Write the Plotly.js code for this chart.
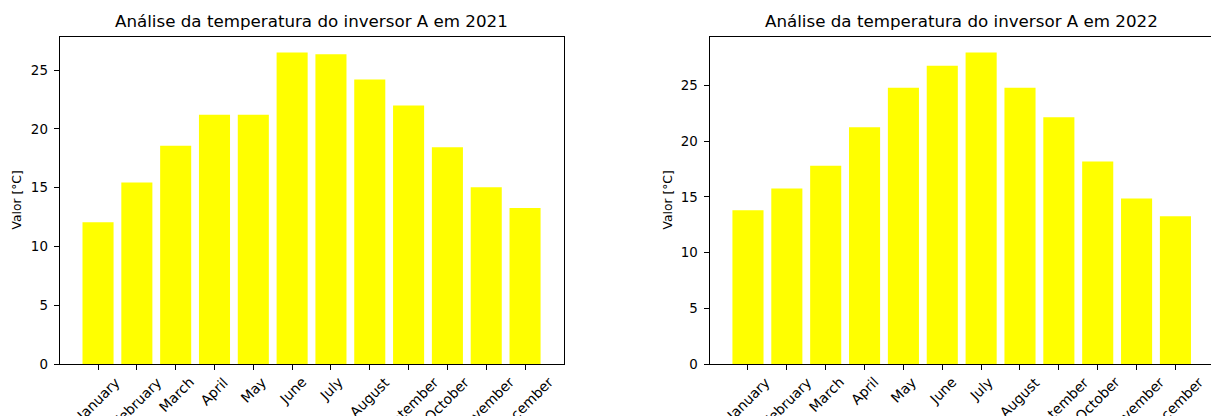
<!DOCTYPE html>
<html>
<head>
<meta charset="utf-8">
<script src="https://cdn.plot.ly/plotly-3.0.1.min.js"></script>
<style>
  html, body { margin: 0; padding: 0; background: #fff; }
  #chart { width: 1211px; height: 416px; }
</style>
</head>
<body>
<div id="chart"></div>
<script>
// Monthly mean temperature of inverter A
const months = ['January', 'February', 'March', 'April', 'May', 'June',
                'July', 'August', 'September', 'October', 'November', 'December'];
const temp2021 = [12.06, 15.45, 18.58, 21.2, 21.2, 26.5, 26.35, 24.2, 22.0, 18.45, 15.05, 13.27];
const temp2022 = [13.8, 15.74, 17.79, 21.25, 24.8, 26.76, 27.95, 24.8, 22.14, 18.17, 14.85, 13.25];
const titles = ['Análise da temperatura do inversor A em 2021',
                'Análise da temperatura do inversor A em 2022'];
const yLabel = 'Valor [°C]';
const yTicks = [0, 5, 10, 15, 20, 25];

const W = 1211, H = 416;
const FONT = 'DejaVu Sans, sans-serif';
const px2x = p => p / W;
const px2y = p => (H - p) / H;

// axes boxes in pixels: [left, right, px per category]
// the second box runs past the right edge of the page
const boxes = [[59.6, 564.3, 38.82], [709.5, 1214, 38.86]];
const boxTop = 37, boxBottom = 364;

const traces = [
  { type: 'bar', x: months, y: temp2021, xaxis: 'x', yaxis: 'y',
    marker: { color: '#ffff00', line: { width: 0 } }, hoverinfo: 'x+y' },
  { type: 'bar', x: months, y: temp2022, xaxis: 'x2', yaxis: 'y2',
    marker: { color: '#ffff00', line: { width: 0 } }, hoverinfo: 'x+y' }
];

function xAxis(i) {
  const [l, r, step] = boxes[i];
  const rVis = Math.min(r, W);
  return {
    domain: [px2x(l), px2x(rVis)],
    anchor: i === 0 ? 'y' : 'y2',
    type: 'category',
    range: [-0.99, -0.99 + (rVis - l) / step],
    showline: true, mirror: true, linecolor: '#000', linewidth: 1,
    ticks: 'outside', ticklen: 5, tickwidth: 1, tickcolor: '#000',
    showticklabels: false, showgrid: false, zeroline: false, fixedrange: true
  };
}
function yAxis(i, data) {
  return {
    domain: [px2y(boxBottom), px2y(boxTop)],
    anchor: i === 0 ? 'x' : 'x2',
    range: [0, Math.max(...data) * 1.05],
    tickvals: yTicks,
    showline: true, mirror: boxes[i][1] <= W, linecolor: '#000', linewidth: 1,
    ticks: 'outside', ticklen: 5, tickwidth: 1, tickcolor: '#000',
    ticklabelstandoff: 3,
    tickfont: { family: FONT, size: 13.4, color: '#000' },
    showgrid: false, zeroline: false, fixedrange: true
  };
}

const annotations = [];
[0, 1].forEach(i => {
  const xref = i === 0 ? 'x' : 'x2';
  const cx = (boxes[i][0] + boxes[i][1]) / 2;
  // subplot title
  annotations.push({
    text: titles[i], xref: 'paper', yref: 'paper',
    x: px2x(cx), y: px2y(33), xanchor: 'center', yanchor: 'bottom',
    showarrow: false, font: { family: FONT, size: 16.7, color: '#000' }
  });
  // y-axis label
  annotations.push({
    text: yLabel, xref: 'paper', yref: 'paper',
    x: px2x(i === 0 ? 16 : 667), y: px2y((boxTop + boxBottom) / 2),
    xanchor: 'center', yanchor: 'middle', textangle: -90,
    showarrow: false, font: { family: FONT, size: 12.3, color: '#000' }
  });
  // rotated month labels, centred under each tick
  months.forEach(m => {
    annotations.push({
      text: m, xref: xref, yref: 'paper',
      x: m, y: px2y(374), xanchor: 'center', yanchor: 'top', textangle: -45,
      borderpad: 0, borderwidth: 0,
      showarrow: false, font: { family: FONT, size: 13.9, color: '#000' }
    });
  });
});

const layout = {
  width: W, height: H,
  margin: { l: 0, r: 0, t: 0, b: 0 },
  paper_bgcolor: '#fff', plot_bgcolor: '#fff',
  showlegend: false,
  bargap: 0.2,
  xaxis: xAxis(0), yaxis: yAxis(0, temp2021),
  xaxis2: xAxis(1), yaxis2: yAxis(1, temp2022),
  annotations: annotations
};

Plotly.newPlot('chart', traces, layout, { displayModeBar: false, staticPlot: true });
</script>
</body>
</html>
